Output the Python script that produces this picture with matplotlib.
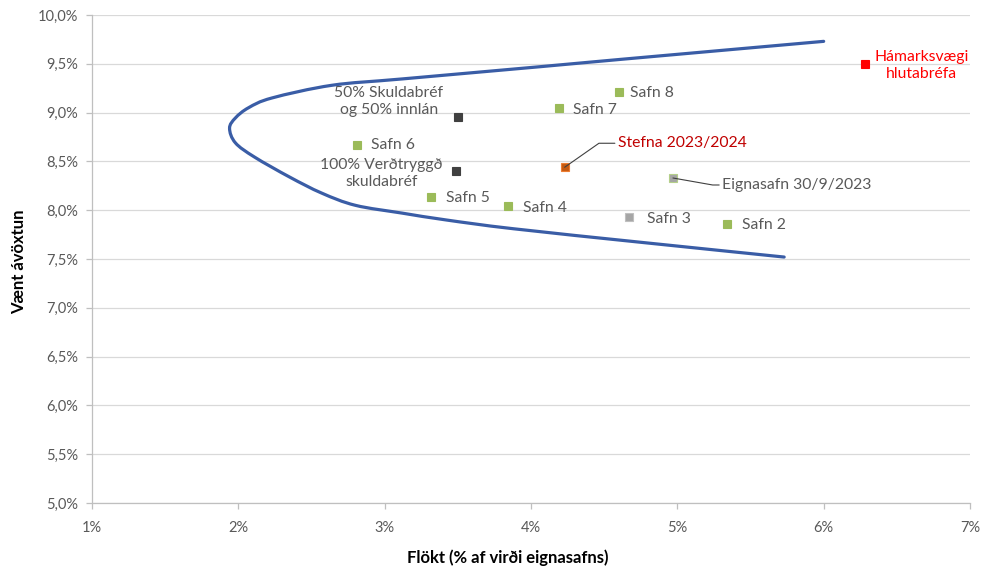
import matplotlib
matplotlib.use("Agg")
import matplotlib.pyplot as plt
from matplotlib.path import Path
from matplotlib.patches import PathPatch
from matplotlib.ticker import FuncFormatter, MultipleLocator

plt.rcParams['font.family'] = ['Lato', 'DejaVu Sans']

# Efficient frontier (volatility %, expected return %)
frontier_x = [6.00, 4.61, 4.06, 3.12, 2.64, 2.23, 2.07, 1.98, 1.94,
              1.98, 2.11, 2.35, 2.57, 2.80, 3.12, 3.42, 3.88, 4.79, 5.73]
frontier_y = [9.73, 9.545, 9.47, 9.345, 9.28, 9.15, 9.05, 8.945, 8.84,
              8.69, 8.545, 8.34, 8.175, 8.05, 7.97, 7.90, 7.81, 7.665, 7.52]

# Portfolios
labels = ["50% Skuldabréf\nog 50% innlán", "Safn 6", "100% Verðtryggð\nskuldabréf",
          "Safn 5", "Safn 4", "Safn 7", "Safn 8", "Stefna 2023/2024",
          "Eignasafn 30/9/2023", "Safn 3", "Safn 2", "Hámarksvægi\nhlutabréfa"]
vol = [3.50, 2.81, 3.49, 3.32, 3.84, 4.19, 4.60, 4.23, 4.97, 4.67, 5.34, 6.28]
ret = [8.96, 8.67, 8.40, 8.14, 8.04, 9.05, 9.21, 8.44, 8.33, 7.93, 7.86, 9.50]

colors = ["#404040", "#9BBB59", "#404040", "#9BBB59", "#9BBB59", "#9BBB59",
          "#9BBB59", "#C55A11", "#A5A5A5", "#A5A5A5", "#9BBB59", "#FF0000"]
edges = ["#404040", "#9BBB59", "#404040", "#9BBB59", "#9BBB59", "#9BBB59",
         "#9BBB59", "#ED7D31", "#B5CF8A", "#BFBFBF", "#9BBB59", "#FF0000"]
text_colors = ["#595959"] * 7 + ["#C00000", "#595959", "#595959", "#595959", "#FF0000"]
# label offsets in pixels (dx, dy) and alignment
offsets = [(-69, 15, "center"), (14, 0, "left"), (-75, -2, "center"),
           (15, -1, "left"), (15, -2, "left"), (14, -2, "left"), (11, -1, "left"),
           (53, 24, "left"), (49, -7, "left"), (18, -2, "left"), (15, -1, "left"),
           (57, -2, "center")]
leaders = {7, 8}

W, H = 987, 571
fig = plt.figure(figsize=(W / 100, H / 100), dpi=100)
ax = fig.add_axes([92 / W, 1 - 503 / H, (970 - 92) / W, (503 - 15) / H])

ax.set_xlim(1, 7)
ax.set_ylim(5, 10)
ax.yaxis.set_major_locator(MultipleLocator(0.5))
ax.xaxis.set_major_locator(MultipleLocator(1))
ax.yaxis.set_major_formatter(FuncFormatter(lambda v, p: f"{v:.1f}%".replace(".", ",")))
ax.xaxis.set_major_formatter(FuncFormatter(lambda v, p: f"{v:.0f}%"))

ax.grid(axis="y", color="#D9D9D9", linewidth=0.9)
ax.set_axisbelow(True)
for s in ("top", "right"):
    ax.spines[s].set_visible(False)
for s in ("left", "bottom"):
    ax.spines[s].set_color("#BFBFBF")
    ax.spines[s].set_linewidth(0.9)
ax.tick_params(axis="both", colors="#BFBFBF", length=4, width=0.9,
               labelcolor="#595959", labelsize=10.5)
ax.tick_params(axis="y", pad=6)
ax.tick_params(axis="x", pad=9)


def smooth_path(xs, ys, tension=1 / 6):
    """Smoothed line through the given points (cubic Bezier, Catmull-Rom style)."""
    pts = list(zip(xs, ys))
    verts = [pts[0]]
    codes = [Path.MOVETO]
    n = len(pts)
    for i in range(n - 1):
        p0 = pts[max(i - 1, 0)]
        p1 = pts[i]
        p2 = pts[i + 1]
        p3 = pts[min(i + 2, n - 1)]
        c1 = (p1[0] + (p2[0] - p0[0]) * tension, p1[1] + (p2[1] - p0[1]) * tension)
        c2 = (p2[0] - (p3[0] - p1[0]) * tension, p2[1] - (p3[1] - p1[1]) * tension)
        verts += [c1, c2, p2]
        codes += [Path.CURVE4] * 3
    return Path(verts, codes)


ax.add_patch(PathPatch(smooth_path(frontier_x, frontier_y), facecolor="none",
                       edgecolor="#3A5DA6", linewidth=2.3, capstyle="round",
                       joinstyle="round", zorder=3))

px = 0.72  # points per pixel
for i, (lab, x, y) in enumerate(zip(labels, vol, ret)):
    ax.plot([x], [y], marker="s", markersize=6.2, color=colors[i],
            markeredgecolor=edges[i], markeredgewidth=0.8, zorder=4)
    dx, dy, ha = offsets[i]
    kw = {}
    if i in leaders:
        kw["arrowprops"] = dict(arrowstyle="-", color="#404040", linewidth=0.8,
                                shrinkA=0, shrinkB=0,
                                connectionstyle="angle,angleA=0,angleB=%d,rad=0"
                                % (35 if i == 7 else -10))
    ax.annotate(lab, xy=(x, y), xytext=(dx * px, dy * px), textcoords="offset points",
                ha=ha, va="center", fontsize=11.3, color=text_colors[i],
                linespacing=1.25, zorder=5, **kw)

fig.text(19 / W, 1 - 262 / H, "Vænt ávöxtun", rotation=90, ha="center", va="center",
         fontsize=12, fontweight="bold", color="#000000")
fig.text(508 / W, 1 - 558 / H, "Flökt (% af virði eignasafns)", ha="center", va="center",
         fontsize=12, fontweight="bold", color="#000000")

fig.savefig("out.png", dpi=100, facecolor="white")
